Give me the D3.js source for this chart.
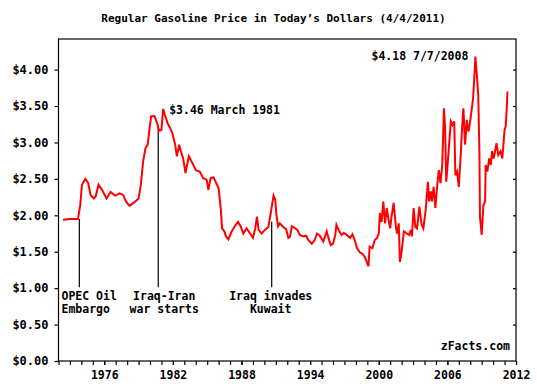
<!DOCTYPE html>
<html>
<head>
<meta charset="utf-8">
<script src="https://cdn.jsdelivr.net/npm/d3@7"></script>
<style>
  html, body { margin: 0; padding: 0; background: #fff; }
  svg { display: block; }
  text { font-family: "DejaVu Sans Mono", "Liberation Mono", monospace; font-weight: bold; fill: #000; }
</style>
</head>
<body>
<svg id="chart" width="537" height="390"></svg>
<script>
// ---- Data ----
const title = "Regular Gasoline Price in Today\u2019s Dollars (4/4/2011)";
const dates = [
  1972.4, 1973.0, 1973.7, 1973.9, 1974.05, 1974.35, 1974.6, 1974.8, 1975.1, 1975.25,
  1975.5, 1975.8, 1976.2, 1976.55, 1976.95, 1977.35, 1977.65, 1977.9, 1978.2, 1978.65,
  1979.0, 1979.2, 1979.4, 1979.6, 1979.8, 1979.97, 1980.1, 1980.4, 1980.65, 1980.8,
  1981.0, 1981.15, 1981.3, 1981.55, 1981.75, 1981.95, 1982.2, 1982.35, 1982.55, 1982.7,
  1982.9, 1983.1, 1983.4, 1983.7, 1984.0, 1984.35, 1984.65, 1984.95, 1985.1, 1985.3,
  1985.55, 1985.8, 1986.0, 1986.2, 1986.3, 1986.5, 1986.65, 1986.85, 1987.15, 1987.5,
  1987.7, 1987.95, 1988.15, 1988.45, 1988.75, 1989.0, 1989.2, 1989.35, 1989.5, 1989.75,
  1990.05, 1990.35, 1990.6, 1990.8, 1990.95, 1991.05, 1991.2, 1991.35, 1991.65, 1991.9,
  1992.1, 1992.25, 1992.4, 1992.7, 1992.9, 1993.1, 1993.4, 1993.65, 1993.85, 1994.15,
  1994.4, 1994.6, 1994.85, 1995.15, 1995.45, 1995.6, 1995.8, 1996.0, 1996.2, 1996.3,
  1996.55, 1996.75, 1996.95, 1997.2, 1997.5, 1997.7, 1997.9, 1998.1, 1998.35, 1998.6,
  1998.8, 1999.1, 1999.2, 1999.45, 1999.65, 1999.85, 2000.0, 2000.1, 2000.25, 2000.4,
  2000.55, 2000.7, 2000.85, 2001.0, 2001.1, 2001.3, 2001.5, 2001.6, 2001.75, 2001.85,
  2002.0, 2002.2, 2002.45, 2002.65, 2002.8, 2002.9, 2003.05, 2003.2, 2003.35, 2003.55,
  2003.75, 2003.9, 2004.1, 2004.3, 2004.4, 2004.55, 2004.65, 2004.8, 2004.95, 2005.1,
  2005.25, 2005.4, 2005.55, 2005.7, 2005.8, 2005.9, 2006.0, 2006.15, 2006.3, 2006.45,
  2006.6, 2006.7, 2006.85, 2007.0, 2007.15, 2007.3, 2007.4, 2007.55, 2007.7, 2007.85,
  2007.95, 2008.1, 2008.25, 2008.35, 2008.45, 2008.6, 2008.7, 2008.8, 2008.85, 2009.0,
  2009.15, 2009.3, 2009.35, 2009.5, 2009.65, 2009.8, 2009.9, 2010.05, 2010.3, 2010.45,
  2010.65, 2010.8, 2010.9, 2011.0, 2011.1, 2011.2, 2011.25
];
const prices = [
  1.94, 1.95, 1.95, 2.14, 2.42, 2.50, 2.44, 2.28, 2.23, 2.26,
  2.42, 2.35, 2.23, 2.32, 2.27, 2.30, 2.28, 2.19, 2.13, 2.18,
  2.23, 2.42, 2.74, 2.92, 2.97, 3.20, 3.36, 3.36, 3.25, 3.16,
  3.17, 3.46, 3.38, 3.26, 3.20, 3.13, 2.97, 2.81, 2.97, 2.88,
  2.78, 2.58, 2.81, 2.72, 2.62, 2.60, 2.51, 2.49, 2.35, 2.51,
  2.52, 2.44, 2.37, 2.07, 1.82, 1.78, 1.71, 1.67, 1.78, 1.87,
  1.91, 1.84, 1.75, 1.82, 1.75, 1.69, 1.82, 1.98, 1.80, 1.75,
  1.80, 1.84, 2.07, 2.27, 2.21, 2.01, 1.85, 1.89, 1.84, 1.81,
  1.69, 1.71, 1.85, 1.82, 1.80, 1.73, 1.71, 1.72, 1.66, 1.61,
  1.66, 1.75, 1.72, 1.64, 1.78, 1.69, 1.59, 1.61, 1.73, 1.87,
  1.78, 1.73, 1.76, 1.73, 1.69, 1.74, 1.66, 1.55, 1.49, 1.47,
  1.42, 1.30, 1.57, 1.55, 1.66, 1.69, 1.75, 2.03, 1.91, 2.19,
  1.89, 2.10, 1.94, 1.82, 1.96, 2.17, 1.84, 1.75, 1.89, 1.36,
  1.50, 1.78, 1.75, 1.73, 1.80, 1.71, 2.10, 1.84, 1.82, 2.12,
  1.87, 1.82, 2.07, 2.46, 2.19, 2.33, 2.19, 2.39, 2.10, 2.39,
  2.62, 2.44, 2.69, 3.47, 3.20, 2.46, 2.65, 2.97, 3.29, 3.24,
  3.29, 2.55, 2.60, 2.39, 2.78, 3.24, 3.47, 2.97, 3.31, 3.15,
  3.24, 3.42, 3.61, 3.88, 4.18, 3.88, 3.65, 2.88, 1.98, 1.73,
  2.14, 2.19, 2.69, 2.60, 2.78, 2.69, 2.88, 2.78, 2.99, 2.83,
  2.88, 2.78, 2.97, 3.17, 3.22, 3.49, 3.70
];
const yTicks = [0, 0.5, 1, 1.5, 2, 2.5, 3, 3.5, 4];
const xLabelYears = [1976, 1982, 1988, 1994, 2000, 2006, 2012];
const eventDates = [1973.82, 1980.72, 1990.64];
const eventPrices = [1.95, 3.23, 1.91];
const eventLine1 = ["OPEC Oil", "Iraq-Iran", "Iraq invades"];
const eventLine2 = ["Embargo", "war starts", "Kuwait"];
const peakDates = [1981.15, 2008.45];
const peakPrices = [3.46, 4.18];
const peakLabels = ["$3.46 March 1981", "$4.18 7/7/2008"];
const sourceLabel = "zFacts.com";

// ---- Layout ----
const svg = d3.select("#chart");
const pL = 58.5, pR = 516, pT = 39, pB = 361;
const x = d3.scaleLinear().domain([1972, 2012]).range([pL, pR]);
const y = d3.scaleLinear().domain([0, 4.42]).range([pB, pT]);

// title
svg.append("text").attr("x", 273.5).attr("y", 22).attr("text-anchor", "middle")
  .style("font-size", "11px").text(title);

// frame
svg.append("rect").attr("x", pL).attr("y", pT).attr("width", pR - pL).attr("height", pB - pT)
  .attr("fill", "none").attr("stroke", "#000").attr("stroke-width", 1.2);

// left axis
const yAxis = d3.axisLeft(y).tickValues(yTicks).tickSize(4).tickPadding(6)
  .tickFormat(d => "$" + d3.format(".2f")(d));
const gy = svg.append("g").attr("transform", `translate(${pL},0)`).call(yAxis);
gy.select(".domain").remove();
gy.selectAll("text").style("font-size", "12px").style("font-family", "DejaVu Sans Mono").style("font-weight", "bold");
gy.selectAll("line").attr("stroke-width", 1.2);

// right inner ticks
const yAxisR = d3.axisRight(y).tickValues(yTicks.slice(1)).tickSize(-3).tickFormat("");
const gyr = svg.append("g").attr("transform", `translate(${pR},0)`).call(yAxisR);
gyr.select(".domain").remove();
gyr.selectAll("line").attr("stroke-width", 1.2);

// bottom axis: minor year ticks + labels
const allYears = d3.range(1972, 2013);
const xAxis = d3.axisBottom(x).tickValues(allYears).tickSize(4).tickFormat("");
const gx = svg.append("g").attr("transform", `translate(0,${pB})`).call(xAxis);
gx.select(".domain").remove();
gx.selectAll("line").attr("stroke-width", 1.2);
const xAxisL = d3.axisBottom(x).tickValues(xLabelYears).tickSize(4).tickPadding(6).tickFormat(d3.format("d"));
const gxl = svg.append("g").attr("transform", `translate(0,${pB})`).call(xAxisL);
gxl.select(".domain").remove();
gxl.selectAll("line").attr("stroke-width", 1.2);
gxl.selectAll("text").style("font-size", "11.5px").style("font-family", "DejaVu Sans Mono").style("font-weight", "bold");

// event lines
const events = eventDates.map((d, i) => ({ d, p: eventPrices[i], l1: eventLine1[i], l2: eventLine2[i] }));
svg.selectAll(".evline").data(events).enter().append("line")
  .attr("x1", e => x(e.d)).attr("x2", e => x(e.d))
  .attr("y1", e => y(e.p)).attr("y2", y(1.0) - 1)
  .attr("stroke", "#000").attr("stroke-width", 1.2);

// event labels
const evAnchor = ["start", "middle", "middle"];
const evX = [e => pL + 3, e => x(e.d) + 6, e => x(e.d) - 1];
events.forEach((e, i) => {
  const t = svg.append("text").attr("text-anchor", evAnchor[i]).style("font-size", "11.5px");
  t.append("tspan").attr("x", evX[i](e)).attr("y", 300).text(e.l1);
  t.append("tspan").attr("x", evX[i](e)).attr("y", 313).text(e.l2);
});

// price line
const line = d3.line().x((d, i) => x(dates[i])).y((d, i) => y(prices[i]));
svg.append("path").datum(prices).attr("d", line)
  .attr("fill", "none").attr("stroke", "#ff0000").attr("stroke-width", 2).attr("stroke-linejoin", "miter");

// peak labels
svg.append("text").attr("x", x(peakDates[0]) + 6).attr("y", y(peakPrices[0]) + 5)
  .attr("text-anchor", "start").style("font-size", "11.5px").text(peakLabels[0]);
svg.append("text").attr("x", x(peakDates[1]) - 7).attr("y", y(peakPrices[1]) + 4)
  .attr("text-anchor", "end").style("font-size", "11.5px").text(peakLabels[1]);

// source
svg.append("text").attr("x", 510).attr("y", 350).attr("text-anchor", "end")
  .style("font-size", "11.5px").text(sourceLabel);
</script>
</body>
</html>
